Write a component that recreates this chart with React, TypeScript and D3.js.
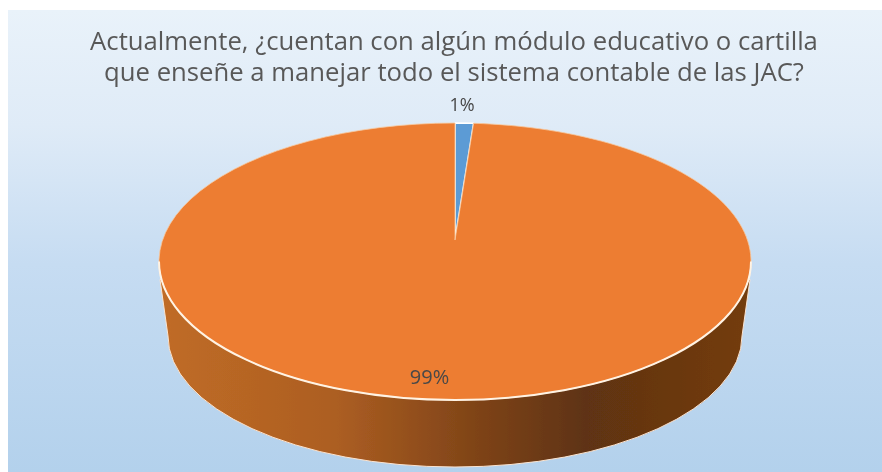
import React from "react";
import * as d3 from "d3";

const categories = ["Sí", "No"];
const values = [1, 99];
const percentLabels = ["1%", "99%"];
const colors = ["#5b9bd5", "#ed7d31"];
const titleLines = [
  "Actualmente, ¿cuentan con algún módulo educativo o cartilla",
  "que enseñe a manejar todo el sistema contable de las JAC?",
];

const W = 882;
const H = 472;

export default function App() {
  const pie = d3.pie<number>().value((d) => d).sort(null)(values);
  const cx = 455, rx = 296, cy = 261.5, ry = 138.5;
  const apexY = 240;
  const bx = 455, brx = 287, bcy = 336, bry = 131;

  const xAt = d3.scaleLinear().domain([-1, 1]).range([cx - rx, cx + rx]);
  const yAt = d3.scaleLinear().domain([-1, 1]).range([cy - ry, cy + ry]);
  const rim = (a: number): [number, number] => [xAt(Math.sin(a)), yAt(-Math.cos(a))];

  const slice = pie.map((p) => {
    const [x0, y0] = rim(p.startAngle);
    const [x1, y1] = rim(p.endAngle);
    const large = p.endAngle - p.startAngle > Math.PI ? 1 : 0;
    return `M${cx},${apexY}L${x0},${y0}A${rx},${ry} 0 ${large} 1 ${x1},${y1}Z`;
  });

  const side =
    `M${cx - rx + 1},${cy + 18}` +
    `L${bx - brx},${bcy}` +
    `A${brx},${bry} 0 0 0 ${bx + brx},${bcy}` +
    `L${cx + rx - 1},${cy + 18}` +
    `L${cx},${cy}Z`;

  const frontRim = `M${cx + rx},${cy}A${rx},${ry} 0 0 1 ${cx - rx},${cy}`;

  return (
    <svg
      width={W}
      height={H}
      viewBox={`0 0 ${W} ${H}`}
      style={{ position: "absolute", left: 0, top: 0, display: "block" }}
    >
      <defs>
        <linearGradient id="bg" x1="0" y1="0" x2="0" y2="1">
          <stop offset="0" stopColor="#e9f2fa" />
          <stop offset="0.25" stopColor="#dfebf7" />
          <stop offset="0.55" stopColor="#c6dcf2" />
          <stop offset="1" stopColor="#b3d1ec" />
        </linearGradient>
        <linearGradient id="wall" gradientUnits="userSpaceOnUse" x1={cx - rx} y1="0" x2={cx + rx} y2="0">
          <stop offset="0" stopColor="#c06c26" />
          <stop offset="0.3" stopColor="#ac5e22" />
          <stop offset="0.55" stopColor="#7c4217" />
          <stop offset="0.72" stopColor="#5f3312" />
          <stop offset="1" stopColor="#743c0f" />
        </linearGradient>
        <filter id="soft" x="-2%" y="-2%" width="104%" height="104%">
          <feGaussianBlur stdDeviation="0.45" />
        </filter>
      </defs>
      <rect x={8} y={10} width={W - 8} height={H - 10} fill="url(#bg)" />
      <g filter="url(#soft)">
        <path d={side} fill="url(#wall)" stroke="#fbe3cf" strokeWidth={1} />
        {pie.map((p, i) => (
          <path key={categories[i]} d={slice[i]} fill={colors[i]} stroke={i === 0 ? "#ffffff" : "#f7c9a0"} strokeWidth={i === 0 ? 1.6 : 0.8} strokeLinejoin="round" />
        ))}
        <path d={frontRim} fill="none" stroke="#fff3e4" strokeWidth={2} />
        <g fontFamily="'Open Sans', sans-serif" textAnchor="middle">
          {titleLines.map((t, i) => (
            <text key={t} x={454} y={50 + i * 31} fontSize={25.7} fill="#595959">{t}</text>
          ))}
          <text x={462} y={111} fontSize={18} fill="#484848">{percentLabels[0]}</text>
          <text x={429.5} y={384} fontSize={20} fill="#484848">{percentLabels[1]}</text>
        </g>
      </g>
    </svg>
  );
}
